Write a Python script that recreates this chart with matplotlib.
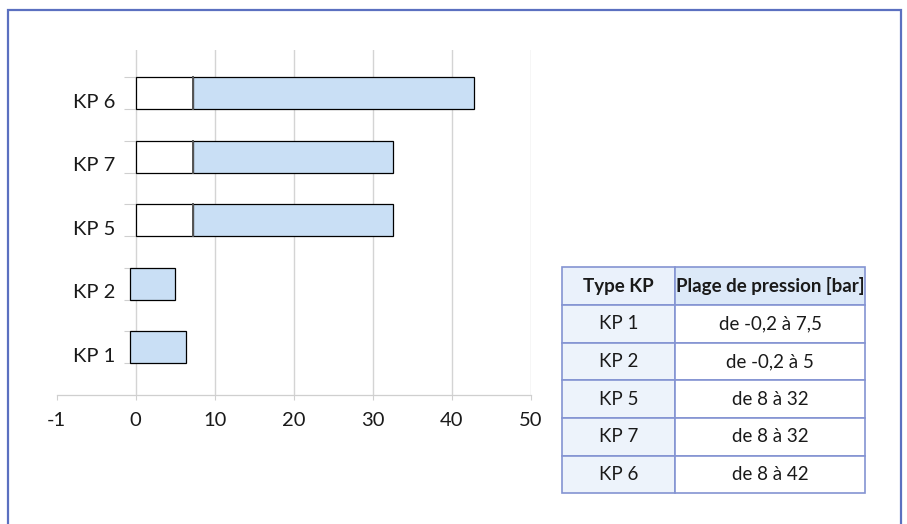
import matplotlib
matplotlib.use("Agg")
import matplotlib.pyplot as plt
from matplotlib.patches import Rectangle

plt.rcParams['font.family'] = ['Lato', 'DejaVu Sans']

# ---- data ----
categories = ["KP 1", "KP 2", "KP 5", "KP 7", "KP 6"]
bar_start = [-0.7, -0.7, 0, 0, 0]          # where each bar begins
blank_len = [0, 0, 7.2, 7.2, 7.2]          # white (empty) segment length
range_end = [6.4, 5.0, 32.6, 32.6, 42.8]   # end of blue range
x_ticks = [-10, 0, 10, 20, 30, 40, 50]
x_tick_labels = ["-1", "0", "10", "20", "30", "40", "50"]

table_header = ["Type KP", "Plage de pression [bar]"]
table_types = ["KP 1", "KP 2", "KP 5", "KP 7", "KP 6"]
table_ranges = ["de -0,2 à 7,5", "de -0,2 à 5", "de 8 à 32", "de 8 à 32", "de 8 à 42"]

W, H = 907, 524
fig = plt.figure(figsize=(W / 100, H / 100), dpi=100)

# outer frame
fig.patches.append(Rectangle((8 / W, -0.05), (901 - 8) / W, 1.05 - 10 / H,
                             transform=fig.transFigure, fill=False,
                             edgecolor="#5b70c0", linewidth=1.6))

ax = fig.add_axes([56.7 / W, (H - 395) / H, 474 / W, 345 / H])
ypos = list(range(len(categories)))

blue_left = [s + b for s, b in zip(bar_start, blank_len)]
blue_w = [e - l for e, l in zip(range_end, blue_left)]

for y, s, b in zip(ypos, bar_start, blank_len):
    if b > 0:
        ax.barh(y, b, left=s, height=0.5, color="white", edgecolor="black",
                linewidth=0.9, zorder=3)
ax.barh(ypos, blue_w, left=blue_left, height=0.5, color="#c9dff5",
        edgecolor="black", linewidth=0.9, zorder=3)
# separator shade
for y, s, b in zip(ypos, bar_start, blank_len):
    if b > 0:
        ax.plot([s + b, s + b], [y - 0.25, y + 0.25], color="#555555",
                linewidth=1.4, zorder=4)

ax.set_xlim(x_ticks[0], x_ticks[-1])
ax.set_ylim(-0.75, 4.68)

ax.set_xticks(x_ticks)
ax.set_xticklabels(x_tick_labels, fontsize=14.5, color="#1a1a1a")
ax.tick_params(axis="x", direction="out", length=3.6, width=0.8,
               color="#cfcfcf", pad=8.5)
for v in x_ticks[1:]:
    ax.axvline(v, color="#d4d4d4", linewidth=1.0, zorder=1)

# y axis sits at x = 0
ax.spines["left"].set_position(("data", 0))
ax.spines["left"].set_linewidth(0)

ax.set_yticks([y - 0.118 for y in ypos])
ax.set_yticklabels(categories, fontsize=14.5, color="#1a1a1a")
ax.tick_params(axis="y", which="major", length=0, pad=14.5)
ax.set_yticks([y + d for y in ypos for d in (-0.25, 0.25)], minor=True)
ax.tick_params(axis="y", which="minor", direction="out", length=8.4,
               width=0.8, color="#cfcfcf")

for sp in ["top", "right"]:
    ax.spines[sp].set_visible(False)
ax.spines["bottom"].set_color("#cfcfcf")
ax.spines["bottom"].set_linewidth(0.9)

# ---- table ----
tx0, tx1, ty0, ty1 = 561.7, 865, 267.3, 493.3
tax = fig.add_axes([tx0 / W, (H - ty1) / H, (tx1 - tx0) / W, (ty1 - ty0) / H])
tax.axis("off")
cell_text = [[t, r] for t, r in zip(table_types, table_ranges)]
tbl = tax.table(cellText=cell_text, colLabels=table_header, cellLoc="center",
                bbox=[0, 0, 1, 1], colWidths=[0.3736, 0.6264])
tbl.auto_set_font_size(False)
for (r, c), cell in tbl.get_celld().items():
    cell.set_edgecolor("#8494d2")
    cell.set_linewidth(1.2)
    txt = cell.get_text()
    txt.set_fontsize(13.5)
    txt.set_color("#1a1a1a")
    if r == 0:
        cell.set_facecolor("#eaf1fb" if c == 0 else "#dce9f8")
        txt.set_fontweight("bold")
    else:
        cell.set_facecolor("#edf3fb" if c == 0 else "white")

fig.savefig("out.png", dpi=100)
